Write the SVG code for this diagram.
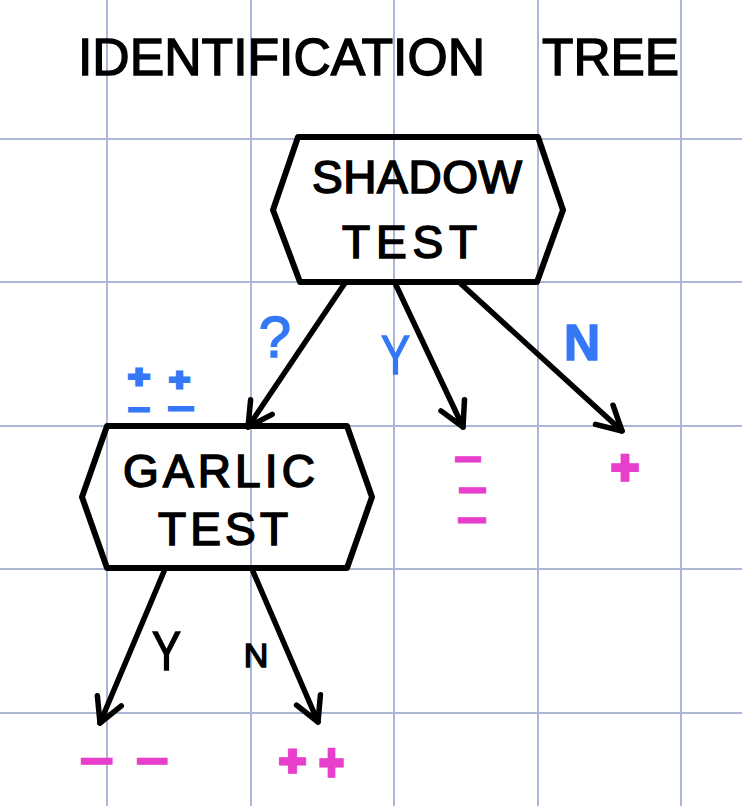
<svg xmlns="http://www.w3.org/2000/svg" width="742" height="806" viewBox="0 0 742 806">
<style>
.grid line{stroke:#aab8d5;stroke-width:2}
.hex{fill:none;stroke:#000;stroke-width:6;stroke-linejoin:round}
.lbl{font-family:"Liberation Sans","DejaVu Sans",sans-serif;fill:#000}
.node{font-size:46px;stroke:#000;stroke-width:1.6}
.ttl{font-size:52px;stroke:#000;stroke-width:1.4}
.blue{fill:#3478f6;stroke:#3478f6;stroke-width:1.5}
.bsign{fill:#3478f6;stroke:#3478f6;stroke-width:3;font-weight:bold}
.mag{fill:#e83ecc;stroke:#e83ecc;stroke-width:3.5;font-weight:bold}
.edge{stroke:#000;stroke-width:5.5;stroke-linecap:round;fill:none;marker-end:url(#ah)}
</style>
<defs>
<marker id="ah" markerUnits="userSpaceOnUse" viewBox="-32 -20 40 40" refX="0" refY="0" markerWidth="40" markerHeight="40" orient="auto" overflow="visible">
<path d="M-24,-13 L0,0 L-24,13" fill="none" stroke="#000" stroke-width="5.5" stroke-linecap="round" stroke-linejoin="round"/>
</marker>
</defs>
<rect width="742" height="806" fill="#fff"/>
<g class="grid">
<line x1="107" y1="0" x2="107" y2="806"/>
<line x1="251" y1="0" x2="251" y2="806"/>
<line x1="394" y1="0" x2="394" y2="806"/>
<line x1="538" y1="0" x2="538" y2="806"/>
<line x1="681" y1="0" x2="681" y2="806"/>
<line x1="0" y1="139" x2="742" y2="139"/>
<line x1="0" y1="282" x2="742" y2="282"/>
<line x1="0" y1="426" x2="742" y2="426"/>
<line x1="0" y1="569" x2="742" y2="569"/>
<line x1="0" y1="713" x2="742" y2="713"/>
</g>
<g id="title">
<text class="lbl ttl" x="78" y="75" textLength="407" lengthAdjust="spacingAndGlyphs">IDENTIFICATION</text>
<text class="lbl ttl" x="542" y="75" textLength="137" lengthAdjust="spacingAndGlyphs">TREE</text>
</g>
<g id="shadow-test">
<polygon class="hex" points="298,137 538,137 563,210 537,282 300,282 273,210"/>
<text class="lbl node" x="312" y="193" textLength="210" lengthAdjust="spacing">SHADOW</text>
<text class="lbl node" x="342" y="258" font-size="48" textLength="135" lengthAdjust="spacing">TEST</text>
</g>
<g id="garlic-test">
<polygon class="hex" points="107,426 347,426 372,497 347,568 107,568 82,497"/>
<text class="lbl node" x="123" y="487" font-size="54" textLength="192" lengthAdjust="spacing">GARLIC</text>
<text class="lbl node" x="158" y="545" textLength="130" lengthAdjust="spacing">TEST</text>
</g>
<g id="connectors">
<path class="edge" d="M345,283 L248,427"/>
<path class="edge" d="M395,283 L463,427"/>
<path class="edge" d="M460,283 L622,431"/>
<path class="edge" d="M165,569 L100,723"/>
<path class="edge" d="M252,569 L318,722"/>
</g>
<g id="edge-labels">
<text class="lbl blue" x="275" y="357" font-size="58" text-anchor="middle">?</text>
<text class="lbl blue" x="381" y="374" font-size="56" textLength="29" lengthAdjust="spacingAndGlyphs">Y</text>
<text class="lbl blue" x="582" y="360" font-size="50" text-anchor="middle" font-weight="bold">N</text>
<text class="lbl" x="152" y="670" font-size="56" stroke="#000" stroke-width="1.5" textLength="29" lengthAdjust="spacingAndGlyphs">Y</text>
<text class="lbl" x="256" y="667" font-size="34" text-anchor="middle" stroke="#000" stroke-width="1.5">N</text>
</g>
<g id="shadow-question-counts">
<text class="lbl bsign" x="128" y="387" font-size="32" textLength="22" lengthAdjust="spacingAndGlyphs">+</text>
<text class="lbl bsign" x="169" y="390" font-size="32" textLength="21" lengthAdjust="spacingAndGlyphs">+</text>
<text class="lbl bsign" x="129" y="417" font-size="22" textLength="20" lengthAdjust="spacingAndGlyphs">−</text>
<text class="lbl bsign" x="169" y="416" font-size="22" textLength="24" lengthAdjust="spacingAndGlyphs">−</text>
</g>
<g id="shadow-yes-leaf">
<text class="lbl mag" x="456" y="468" font-size="26" textLength="24" lengthAdjust="spacingAndGlyphs">−</text>
<text class="lbl mag" x="460" y="499" font-size="26" textLength="25" lengthAdjust="spacingAndGlyphs">−</text>
<text class="lbl mag" x="459" y="529" font-size="26" textLength="26" lengthAdjust="spacingAndGlyphs">−</text>
</g>
<g id="shadow-no-leaf">
<text class="lbl mag" x="611" y="484" font-size="48" textLength="28" lengthAdjust="spacingAndGlyphs">+</text>
</g>
<g id="garlic-yes-leaf">
<text class="lbl mag" x="82" y="771" font-size="30" textLength="30" lengthAdjust="spacingAndGlyphs">−</text>
<text class="lbl mag" x="138" y="771" font-size="30" textLength="29" lengthAdjust="spacingAndGlyphs">−</text>
</g>
<g id="garlic-no-leaf">
<text class="lbl mag" x="279" y="775" font-size="42" textLength="27" lengthAdjust="spacingAndGlyphs">+</text>
<text class="lbl mag" x="319" y="780" font-size="52" textLength="25" lengthAdjust="spacingAndGlyphs">+</text>
</g>
</svg>
